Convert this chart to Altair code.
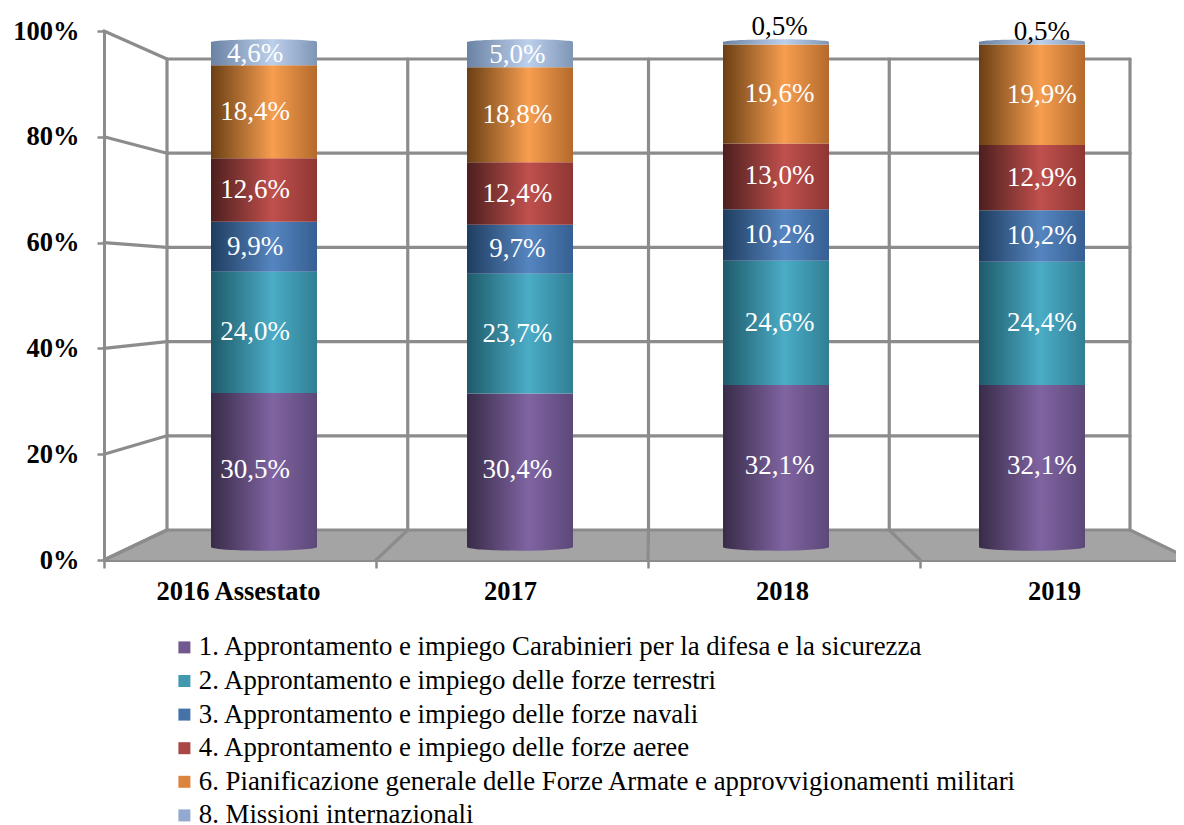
import altair as alt
import pandas as pd

CATEGORIES = ["2016 Assestato", "2017", "2018", "2019"]
SERIES = [
    "1. Approntamento e impiego Carabinieri per la difesa e la sicurezza",
    "2. Approntamento e impiego delle forze terrestri",
    "3. Approntamento e impiego delle forze navali",
    "4. Approntamento e impiego delle forze aeree",
    "6. Pianificazione generale delle Forze Armate e approvvigionamenti militari",
    "8. Missioni internazionali",
]
S1 = [30.5, 30.4, 32.1, 32.1]
S2 = [24.0, 23.7, 24.6, 24.4]
S3 = [9.9, 9.7, 10.2, 10.2]
S4 = [12.6, 12.4, 13.0, 12.9]
S6 = [18.4, 18.8, 19.6, 19.9]
S8 = [4.6, 5.0, 0.5, 0.5]
VALUES = [S1, S2, S3, S4, S6, S8]
TICKS = [0, 20, 40, 60, 80, 100]

LEGEND_COLORS = ["#71588F", "#4198AF", "#4572A7", "#AA4643", "#DB843D", "#93A9CF"]
SHADES = [
    ("#382B48", "#8064A2", "#5C4878"),
    ("#1E5A6A", "#4BACC6", "#2F7F94"),
    ("#1F3D60", "#5585C0", "#365F92"),
    ("#4C1F1E", "#C0504D", "#8E3633"),
    ("#6A3F14", "#F79E50", "#B46A2C"),
    ("#6A82A4", "#BCD0EC", "#7F95B6"),
]

# plot origin on the page, and the simple oblique projection of the 3-D box
OX, OY = 104, 8
W, H = 1072, 552
FRONT_X0, FRONT_X1, FRONT_Y0, FRONT_Y1 = 104, 1192, 560, 31
BACK_X0, BACK_X1, BACK_Y0, BACK_Y1 = 167, 1130, 530, 59


def front(slot, v):
    return (FRONT_X0 + (FRONT_X1 - FRONT_X0) * slot / 4, FRONT_Y0 + (FRONT_Y1 - FRONT_Y0) * v / 100)


def back(slot, v):
    return (BACK_X0 + (BACK_X1 - BACK_X0) * slot / 4, BACK_Y0 + (BACK_Y1 - BACK_Y0) * v / 100)


frame_rows = []


def seg(name, *pts):
    for i, (x, y) in enumerate(pts):
        frame_rows.append({"id": name, "i": i, "x": x, "y": y})


for t in TICKS:
    seg(f"left{t}", front(0, t), back(0, t))
    seg(f"back{t}", back(0, t), back(4, t))
for s in range(5):
    seg(f"vert{s}", back(s, 0), back(s, 100))
    seg(f"floor{s}", back(s, 0), front(s, 0))
frame = pd.DataFrame(frame_rows)

fx = alt.Scale(domain=[OX, OX + W], range=[0, W], nice=False, zero=False)
fy = alt.Scale(domain=[OY, OY + H], range=[0, H], nice=False, zero=False)

floor = pd.DataFrame(
    [
        {"x": front(0, 0)[0], "y": front(0, 0)[1], "y2": FRONT_Y0},
        {"x": back(0, 0)[0], "y": back(0, 0)[1], "y2": FRONT_Y0},
        {"x": back(4, 0)[0], "y": back(4, 0)[1], "y2": FRONT_Y0},
        {"x": front(4, 0)[0], "y": front(4, 0)[1], "y2": FRONT_Y0},
    ]
)
floor_layer = alt.Chart(floor).mark_area(color="#A4A4A4", interpolate="linear").encode(
    x=alt.X("x:Q", scale=fx, axis=None),
    y=alt.Y("y:Q", scale=fy, axis=None),
    y2="y2:Q",
)
frame_layer = alt.Chart(frame).mark_line(color="#8C8C8C", strokeWidth=3.2, strokeCap="round").encode(
    x=alt.X("x:Q", scale=fx, axis=None),
    y=alt.Y("y:Q", scale=fy, axis=None),
    detail="id:N",
    order="i:Q",
)

# axes (front edge of the box)
axis_df = pd.DataFrame({"cat": CATEGORIES, "v": [0, 0, 0, 100]})
axis_layer = alt.Chart(axis_df).mark_point(size=0, opacity=0).encode(
    x=alt.X(
        "cat:N",
        sort=CATEGORIES,
        title=None,
        scale=alt.Scale(domain=CATEGORIES, range=[0, 1088], paddingInner=0, paddingOuter=0),
        axis=alt.Axis(
            labelAngle=0, labelFont="Liberation Serif", labelFontWeight="bold", labelFontSize=26.5,
            labelColor="#000000", labelPadding=10, labelOffset=-2, tickSize=8, tickWidth=2.5,
            tickColor="#8C8C8C", domainColor="#8C8C8C", domainWidth=3, tickBand="extent",
            labelBaseline="top", grid=False,
        ),
    ),
    y=alt.Y(
        "v:Q",
        title=None,
        scale=alt.Scale(domain=[0, 100], range=[H, FRONT_Y1 - OY], nice=False),
        axis=alt.Axis(
            values=TICKS, labelExpr="datum.value + '%'", labelFont="Liberation Serif",
            labelFontWeight="bold", labelFontSize=26.5, labelColor="#000000", labelPadding=18,
            tickSize=7, tickWidth=2.5, tickColor="#8C8C8C", domainColor="#8C8C8C", domainWidth=3,
            grid=False,
        ),
    ),
)

# cylinders
bar_x = alt.Scale(domain=CATEGORIES, range=[136 - OX, 1160 - OX], paddingInner=0, paddingOuter=0)
bar_y = alt.Scale(domain=[0, 100], range=[547 - OY, 42 - OY], nice=False)
BAR_W = 106
rows = []
for ci, cat in enumerate(CATEGORIES):
    base = 0.0
    for si, name in enumerate(SERIES):
        v = VALUES[si][ci]
        rows.append({"cat": cat, "si": si, "series": name, "v": v, "y0": base, "y1": base + v})
        base += v
df = pd.DataFrame(rows)


def grad(si):
    a, b, c = SHADES[si]
    return {
        "gradient": "linear", "x1": 0, "x2": 1, "y1": 0, "y2": 0,
        "stops": [
            {"offset": 0, "color": a},
            {"offset": 0.58, "color": b},
            {"offset": 1, "color": c},
        ],
    }


bar_layers = []
for si in range(6):
    bar_layers.append(
        alt.Chart(df[df.si == si]).mark_bar(fill=grad(si), size=BAR_W, strokeWidth=0, opacity=1).encode(
            x=alt.X("cat:N", sort=CATEGORIES, scale=bar_x, axis=None),
            y=alt.Y("y0:Q", scale=bar_y, axis=None),
            y2="y1:Q",
        )
    )

BOTTOM_CAP = "M-1,0 A1,0.07 0 0 0 1,0 Z"
TOP_CAP = "M-1,0 A1,0.05 0 0 1 1,0 Z"
bottom_cap = alt.Chart(df[df.si == 0]).mark_point(
    shape=BOTTOM_CAP, size=BAR_W**2, filled=True, fill=grad(0), opacity=1, strokeWidth=0
).encode(
    x=alt.X("cat:N", sort=CATEGORIES, scale=bar_x, axis=None),
    y=alt.Y("y0:Q", scale=bar_y, axis=None),
)
top_cap = alt.Chart(df[df.si == 5]).mark_point(
    shape=TOP_CAP, size=BAR_W**2, filled=True, fill=grad(5), opacity=1, strokeWidth=0
).encode(
    x=alt.X("cat:N", sort=CATEGORIES, scale=bar_x, axis=None),
    y=alt.Y("y1:Q", scale=bar_y, axis=None),
)

# value labels
df["label"] = df.v.map(lambda v: f"{v:.1f}%".replace(".", ","))
df["mid"] = (df.y0 + df.y1) / 2
SMALL_LABEL_POS = {"2018": 103.0, "2019": 102.0}
text_x = alt.Scale(domain=CATEGORIES, range=[124 - OX, 1173 - OX], paddingInner=0, paddingOuter=0)
inside = df[df.v >= 1]
outside = df[df.v < 1].copy()
outside["mid"] = outside.cat.map(SMALL_LABEL_POS)
white_text = alt.Chart(inside).mark_text(
    font="Liberation Serif", fontSize=27, color="#FFFFFF", baseline="middle", align="center"
).encode(
    x=alt.X("cat:N", sort=CATEGORIES, scale=text_x, axis=None),
    y=alt.Y("mid:Q", scale=bar_y, axis=None),
    text="label:N",
)
black_text = alt.Chart(outside).mark_text(
    font="Liberation Serif", fontSize=27, color="#000000", baseline="middle", align="center"
).encode(
    x=alt.X("cat:N", sort=CATEGORIES, scale=text_x, axis=None),
    y=alt.Y("mid:Q", scale=bar_y, axis=None),
    text="label:N",
)

# legend
legend_df = pd.DataFrame({"series": SERIES})
legend_layer = alt.Chart(legend_df).mark_square(size=0, opacity=1).encode(
    x=alt.value(0),
    y=alt.value(0),
    color=alt.Color(
        "series:N",
        sort=SERIES,
        scale=alt.Scale(domain=SERIES, range=LEGEND_COLORS),
        legend=alt.Legend(
            title=None, orient="none", legendX=67, legendY=626, symbolType="square", symbolSize=144,
            symbolStrokeWidth=0, symbolOpacity=1, labelFont="Liberation Serif", labelFontSize=26.8,
            labelColor="#000000", labelLimit=1000, rowPadding=5.6, labelOffset=1,
        ),
    ),
)

chart = (
    alt.layer(
        floor_layer, frame_layer, axis_layer, *bar_layers, bottom_cap, top_cap,
        white_text, black_text, legend_layer,
    )
    .resolve_scale(x="independent", y="independent", color="independent")
    .properties(
        width=W,
        height=H,
        autosize=alt.AutoSizeParams(type="none"),
        padding={"left": 96, "top": 0, "right": 0, "bottom": 265},
    )
    .configure_view(stroke=None)
)

chart.save("out.html", embed_options={"renderer": "svg", "actions": False})
